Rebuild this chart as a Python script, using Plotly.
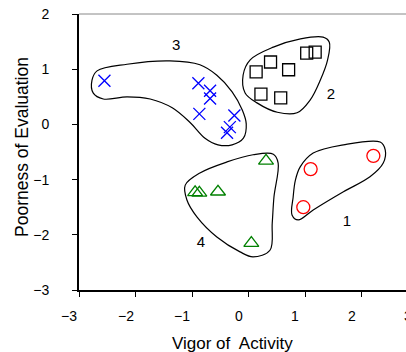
import plotly.graph_objects as go

# ---- data ----
g1_x = [1.10, 2.21, 0.97]
g1_y = [-0.81, -0.57, -1.50]

g2_x = [0.135, 0.39, 0.71, 1.03, 1.18, 0.22, 0.57]
g2_y = [0.95, 1.13, 0.99, 1.29, 1.31, 0.55, 0.48]

g3_x = [-2.55, -0.887, -0.68, -0.68, -0.87, -0.25, -0.33, -0.38]
g3_y = [0.79, 0.745, 0.61, 0.47, 0.19, 0.16, -0.05, -0.15]

g4_x = [0.31, -0.945, -0.87, -0.54, 0.05]
g4_y = [-0.66, -1.23, -1.24, -1.22, -2.15]

# cluster outlines
o1_x = [0.915, 1.145, 1.68, 2.33, 2.42, 2.385, 2.15, 1.68, 1.145, 0.88, 0.77, 0.79, 0.83]
o1_y = [-0.77, -0.52, -0.37, -0.32, -0.46, -0.70, -0.95, -1.22, -1.55, -1.73, -1.64, -1.32, -1.01]

o2_x = [-0.095, 0.03, 0.44, 0.92, 1.32, 1.43, 1.40, 1.27, 1.09, 0.86, 0.51, 0.15, -0.06]
o2_y = [0.895, 1.17, 1.40, 1.55, 1.58, 1.49, 1.17, 0.80, 0.44, 0.21, 0.22, 0.39, 0.57]

o3_x = [-2.77, -2.68, -2.15, -1.39, -0.86, -0.56, -0.29, -0.11, -0.04, -0.09, -0.29, -0.54,
        -0.77, -1.03, -1.35, -1.74, -2.15, -2.57, -2.75]
o3_y = [0.80, 0.97, 1.09, 1.15, 1.08, 0.89, 0.59, 0.26, 0.01, -0.25, -0.37, -0.37,
        -0.25, 0.03, 0.30, 0.46, 0.50, 0.46, 0.57]

o4_x = [-1.12, -0.86, -0.38, 0.08, 0.44, 0.525, 0.45, 0.42, 0.38, 0.08, -0.15, -0.56, -0.91, -1.09]
o4_y = [-1.10, -0.88, -0.68, -0.55, -0.54, -0.70, -1.32, -1.79, -2.28, -2.40, -2.31, -2.04, -1.68, -1.37]

labels = ["1", "2", "3", "4"]
label_x = [1.74, 1.46, -1.28, -0.84]
label_y = [-1.77, 0.53, 1.41, -2.15]

x_ticks = [-3, -2, -1, 0, 1, 2, 3]
y_ticks = [-3, -2, -1, 0, 1, 2]

FONT = "Liberation Sans, Arial"


def fmt(v):
    return str(v).replace("-", "\u2212")


fig = go.Figure()

for ox, oy in [(o1_x, o1_y), (o2_x, o2_y), (o3_x, o3_y), (o4_x, o4_y)]:
    fig.add_trace(go.Scatter(x=ox + ox[:1], y=oy + oy[:1], mode="lines",
                             line=dict(color="black", width=1.2, shape="spline", smoothing=1.0),
                             hoverinfo="skip", showlegend=False))

fig.add_trace(go.Scatter(x=g3_x, y=g3_y, mode="markers",
                         marker=dict(symbol="x-thin-open", size=12, line=dict(color="blue", width=1.3), color="blue"),
                         showlegend=False))
fig.add_trace(go.Scatter(x=g2_x, y=g2_y, mode="markers",
                         marker=dict(symbol="square-open", size=12, color="black", line=dict(width=1.3)),
                         showlegend=False))
fig.add_trace(go.Scatter(x=g1_x, y=g1_y, mode="markers",
                         marker=dict(symbol="circle-open", size=13, color="red", line=dict(width=1.3)),
                         showlegend=False))
fig.add_trace(go.Scatter(x=g4_x, y=g4_y, mode="markers",
                         marker=dict(symbol="triangle-up-open", size=13, color="green", line=dict(width=1.3)),
                         showlegend=False))

fig.add_trace(go.Scatter(x=label_x, y=label_y, mode="text", text=labels,
                         textfont=dict(family=FONT, size=15, color="black"),
                         showlegend=False, hoverinfo="skip"))

fig.update_xaxes(range=[-3, 3], tickvals=x_ticks, showticklabels=False,
                 showgrid=False, zeroline=False, showline=True, linecolor="black", linewidth=2,
                 ticks="outside", ticklen=5, tickcolor="black", tickwidth=1)
fig.update_yaxes(range=[-3, 2], tickvals=y_ticks, ticktext=[fmt(v) for v in y_ticks],
                 showgrid=False, zeroline=False, showline=True, linecolor="black", linewidth=2,
                 ticks="outside", ticklen=5, tickcolor="black", tickwidth=1, ticklabelstandoff=20,
                 tickfont=dict(family=FONT, size=14, color="black"))

# x tick labels (drawn slightly left of their ticks, as in the original)
for v in x_ticks:
    fig.add_annotation(text=fmt(v), x=v, xref="x", y=0, yref="paper", yshift=-26, xshift=-10,
                       showarrow=False, yanchor="middle", xanchor="center",
                       font=dict(family=FONT, size=14, color="black"))

fig.add_shape(type="line", xref="paper", yref="paper", x0=0, x1=1, y0=1, y1=1,
              line=dict(color="#888888", width=1))

fig.add_annotation(text="Vigor of  Activity", xref="paper", yref="paper", x=(232 - 79) / 339, y=0,
                   yshift=-53, showarrow=False, yanchor="middle",
                   font=dict(family=FONT, size=17, color="black"))
fig.add_annotation(text="Poorness of Evaluation", xref="paper", yref="paper", x=0, xshift=-57,
                   y=(290 - 147) / 276, showarrow=False, textangle=-90, xanchor="center",
                   font=dict(family=FONT, size=17.5, color="black"))

fig.update_layout(width=420, height=352, margin=dict(l=79, r=2, t=14, b=62),
                  plot_bgcolor="white", paper_bgcolor="white")

fig.write_html("out.html", config={"displayModeBar": False},
               post_script="document.body.style.margin='0';document.documentElement.style.overflow='hidden';document.body.style.overflow='hidden';")
